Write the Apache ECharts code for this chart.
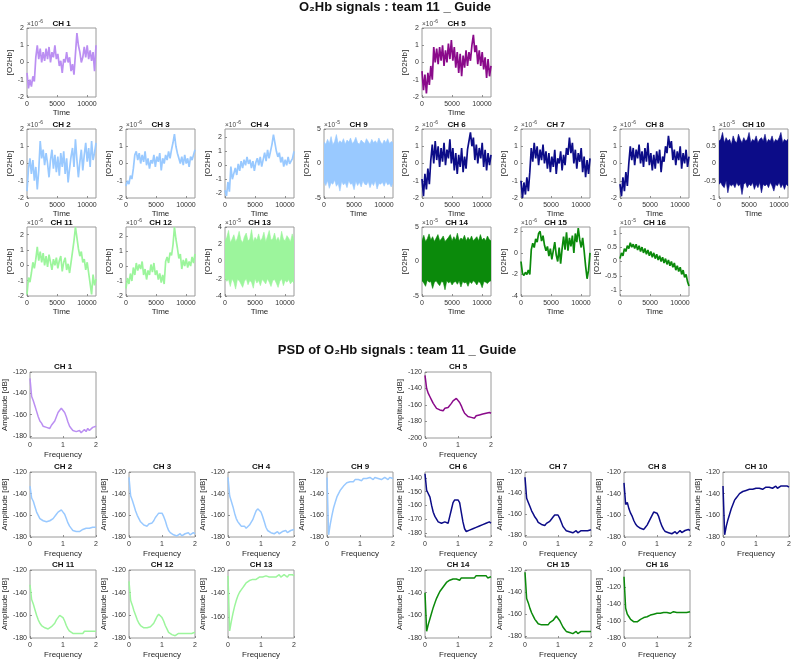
<!DOCTYPE html>
<html><head><meta charset="utf-8">
<script src="https://cdn.jsdelivr.net/npm/echarts@6/dist/echarts.min.js"></script>
<style>html,body{margin:0;padding:0;background:#fff}#c{width:794px;height:660px}</style>
</head><body><div id="c"></div><script>
// ---------- data ----------
const timeXTicks = [0, 5000, 10000];
const timeXMax = 11500;
const psdXTicks = [0, 1, 2];
const psdXMax = 2;

const tk2 = [-2, -1, 0, 1, 2];
const tk5 = [-5, 0, 5];
const tk4 = [-4, -2, 0, 2, 4];
const tkHalf = [-1, -0.5, 0, 0.5, 1];
const tk15 = [-4, -2, 0, 2];
const pk120 = [-180, -160, -140, -120];
const pk200 = [-200, -180, -160, -140, -120];
const pk6 = [-180, -170, -160, -150, -140];
const pk16 = [-180, -160, -140, -120, -100];

const tCH1 = [-0.6,-1.5,-1.0,-1.4,-0.8,-1.1,0.3,1.0,0.2,0.8,0.0,0.6,0.1,0.8,0.2,0.9,0.0,0.6,0.3,1.0,0.2,0.5,-0.2,0.1,-0.6,0.2,0.0,0.6,0.0,0.3,-0.5,-0.1,-0.7,0.5,1.7,1.0,0.6,0.0,0.3,0.9,0.3,1.0,0.2,0.7,0.1,0.6,-0.5,1.0];
const tCH5 = [-0.5,-1.6,-0.7,-1.8,-0.6,-1.3,-0.2,-1.0,0.9,0.0,0.8,-0.1,0.9,0.1,1.0,-0.2,0.7,0.0,1.1,0.2,1.3,0.1,0.9,-0.3,0.6,-0.6,0.5,-0.8,0.4,-0.3,0.7,-0.2,0.6,0.1,1.0,1.6,0.6,1.0,-0.1,0.7,-0.2,0.6,-0.4,0.3,-0.9,0.2,-0.8,-0.2];
const tCH2 = [-1.6,-0.3,0.3,-0.6,0.2,-1.0,-0.2,-1.5,-0.4,1.3,0.3,0.8,-0.1,0.6,0.0,-0.8,0.2,0.8,-0.3,0.5,-0.5,0.4,-0.7,0.6,-0.2,0.7,-0.6,0.3,-1.1,-0.3,0.4,0.9,-0.2,1.4,0.2,-0.8,0.1,0.8,-0.4,0.5,1.2,0.1,0.9,-0.2,1.3,0.2,0.6,1.2];
const tCH3 = [-1.3,-1.0,-1.2,-0.7,-0.9,-0.3,0.5,0.7,0.2,0.6,0.0,0.5,0.1,0.7,-0.1,0.3,-0.3,0.2,0.0,0.5,-0.2,0.4,0.1,0.6,-0.4,0.3,0.0,0.5,0.2,0.7,0.3,0.8,1.2,1.7,1.0,0.6,0.3,0.0,0.4,-0.1,0.5,0.0,0.3,-0.2,0.4,0.2,0.5,0.8];
const tCH4 = [-1.8,-2.2,-1.2,-1.9,-0.1,-1.0,-0.6,-0.2,-0.7,0.1,-0.4,0.3,-0.2,0.4,0.0,0.6,0.1,0.4,-0.2,0.3,-0.4,0.2,0.5,0.0,0.6,-0.1,0.4,0.9,0.3,1.1,0.5,1.0,1.5,2.2,1.6,1.0,0.6,0.9,0.2,0.6,-0.1,0.4,0.0,0.6,0.1,0.3,0.5,1.0];
const tCH9hi = [3.1,2.8,3.5,2.9,3.9,2.7,3.2,4.2,2.9,3.3,3.0,3.6,2.8,3.4,3.1,3.7,2.9,3.2,3.8,3.0,2.8,3.4,3.1,2.9,3.6,3.2,2.8,3.5,3.0,3.3,2.9,3.7,3.1,2.8,3.4,3.0,3.6,2.9,3.2,3.0];
const tCH9lo = [-2.7,-3.2,-2.5,-3.6,-2.8,-3.0,-2.4,-3.3,-2.9,-4.0,-2.6,-3.1,-2.8,-3.5,-2.5,-3.0,-2.9,-3.8,-2.6,-3.2,-2.7,-3.4,-2.5,-3.0,-3.1,-2.6,-3.5,-2.8,-3.2,-2.5,-3.7,-2.9,-3.0,-2.7,-3.3,-2.6,-3.1,-2.9,-3.4,-2.8];
const tCH6 = [-0.9,-1.9,-0.6,-1.5,-0.3,-1.2,0.2,1.1,0.0,1.3,0.2,1.0,-0.2,0.9,0.1,1.2,-0.1,0.8,0.3,1.4,0.0,0.9,-0.4,0.6,-0.6,0.5,-0.2,0.9,-0.5,0.4,-0.3,0.8,0.7,1.8,1.0,1.5,0.2,1.1,0.0,0.9,0.3,1.2,-0.2,0.8,-0.4,0.6,-0.1,0.5];
const tCH7 = [-1.0,-2.0,-1.1,-1.8,-0.8,-1.6,-0.5,0.9,0.1,1.2,0.3,1.0,-0.1,0.8,0.2,1.1,0.0,0.7,-0.3,0.6,-0.5,0.4,-0.2,0.8,-0.6,0.3,0.0,0.7,-0.4,0.5,-0.1,0.9,0.5,1.5,0.6,1.2,0.0,0.8,-0.3,0.6,0.1,0.9,-0.5,0.4,-0.8,0.2,-0.6,0.3];
const tCH8 = [-1.2,-1.9,-0.8,-1.6,-0.5,-1.3,0.0,1.0,0.2,0.9,-0.1,0.8,0.3,1.1,0.0,0.7,-0.2,0.9,0.1,1.2,-0.1,0.6,-0.4,0.5,-0.3,0.7,0.0,0.8,-0.5,0.4,0.1,1.0,0.6,1.6,0.9,1.3,0.2,0.8,-0.1,0.7,0.2,1.0,-0.3,0.6,0.0,0.8,-0.2,0.4];
const tCH10hi = [0.65,0.7,0.9,0.6,0.75,0.65,0.7,0.55,0.8,0.65,0.6,0.85,0.7,0.6,0.75,0.65,0.7,0.9,0.6,0.7,0.65,0.8,0.6,0.7,0.75,0.65,0.85,0.6,0.7,0.65,0.8,0.6,0.7,0.65,0.75,0.9,0.6,0.7,0.65,0.7];
const tCH10lo = [-0.6,-0.55,-0.65,-0.7,-0.5,-0.85,-0.6,-0.65,-0.6,-0.7,-0.55,-0.65,-0.6,-0.9,-0.6,-0.55,-0.7,-0.6,-0.65,-0.55,-0.75,-0.6,-0.7,-0.55,-0.85,-0.6,-0.65,-0.6,-0.7,-0.55,-0.65,-0.8,-0.6,-0.65,-0.55,-0.7,-0.6,-0.75,-0.6,-0.65];
const tCH11 = [-1.9,-0.8,-1.1,-0.5,0.2,-0.2,0.4,1.2,0.3,0.9,0.2,0.8,0.0,0.6,-0.1,0.7,0.2,-0.3,0.4,0.0,0.5,-0.2,0.3,0.6,-0.4,0.2,0.5,-0.3,0.1,-0.5,0.2,0.9,1.6,2.5,1.8,1.1,0.6,0.9,0.2,0.4,-0.3,0.2,-0.5,-1.2,-1.9,-0.6,-1.3,-0.9];
const tCH12 = [-1.5,-0.8,-1.2,-0.5,-1.0,-0.1,-0.6,0.2,-0.3,0.1,-0.2,0.3,-0.6,-0.2,-0.9,-0.3,-0.6,0.1,-0.4,0.2,-0.6,-0.3,-0.9,-0.5,-1.1,-0.6,-1.2,0.3,0.6,0.2,0.9,0.7,1.4,2.6,1.8,1.2,0.5,0.8,-0.2,0.4,0.0,0.5,-0.1,0.3,0.0,0.6,0.2,0.8];
const tCH13hi = [2.4,2.8,3.6,2.2,2.6,3.1,2.3,2.7,3.5,2.5,2.2,2.9,3.3,2.4,2.6,3.7,2.3,2.8,2.5,3.2,2.4,2.7,3.4,2.3,2.9,3.6,2.5,2.6,3.3,2.4,2.8,2.3,3.5,2.6,2.4,3.0,2.7,2.3,3.2,2.5];
const tCH13lo = [-2.0,-2.3,-2.1,-2.9,-2.0,-2.4,-3.2,-2.1,-2.2,-2.6,-3.0,-2.3,-2.0,-2.7,-2.2,-2.4,-3.1,-2.0,-2.5,-2.2,-2.8,-2.1,-2.3,-2.6,-2.0,-2.4,-2.9,-2.2,-2.1,-2.5,-3.0,-2.3,-2.0,-2.8,-2.2,-2.4,-2.1,-2.6,-2.3,-2.5];
const tCH14hi = [3.0,3.8,2.9,3.3,4.0,3.1,3.6,2.9,3.4,3.9,3.0,3.3,3.7,2.9,3.2,3.5,3.9,3.0,3.6,3.1,4.1,3.0,3.4,3.2,3.8,3.0,3.5,3.1,3.7,3.0,3.3,3.6,3.0,3.9,3.1,3.4,3.0,3.7,3.2,3.0];
const tCH14lo = [-2.8,-3.1,-3.6,-2.7,-3.0,-2.9,-3.9,-3.0,-2.8,-3.2,-3.5,-2.9,-3.0,-4.1,-2.8,-3.1,-2.9,-3.4,-3.0,-2.9,-3.3,-2.8,-3.7,-2.9,-3.1,-3.0,-3.6,-2.9,-3.2,-2.8,-3.0,-3.4,-2.9,-3.1,-3.8,-2.9,-3.0,-3.2,-2.9,-2.8];
const tCH15 = [-0.8,-1.9,-2.1,-1.8,-2.0,-1.6,-2.0,0.3,0.9,0.5,1.3,1.0,1.8,2.0,1.1,1.6,0.7,0.2,0.6,-0.3,0.4,-0.6,0.2,1.0,-0.2,-0.8,0.5,-1.0,0.4,1.5,0.3,1.9,0.2,1.4,0.6,1.6,0.0,1.8,1.0,2.3,1.2,0.5,1.4,0.2,-1.2,-2.4,-1.6,0.0];
const tCH16 = [0.1,0.3,0.2,0.45,0.35,0.55,0.45,0.65,0.5,0.6,0.45,0.6,0.4,0.55,0.35,0.5,0.3,0.45,0.25,0.4,0.2,0.35,0.15,0.3,0.1,0.25,0.05,0.2,0.0,0.15,-0.05,0.1,-0.1,0.05,-0.15,0.0,-0.2,-0.05,-0.3,-0.15,-0.35,-0.2,-0.45,-0.3,-0.55,-0.45,-0.7,-0.85];

const pCH1 = [-126,-143,-147,-152,-157,-162,-166,-168,-171,-170,-172,-171,-173,-170,-169,-166,-162,-158,-156,-154,-155,-158,-162,-167,-171,-173,-175,-174,-176,-177,-175,-177,-176,-174,-176,-173,-175,-174,-172,-173,-171];
const pCH5 = [-124,-140,-146,-150,-154,-158,-161,-164,-163,-166,-165,-167,-164,-166,-163,-161,-158,-155,-153,-152,-154,-157,-161,-166,-170,-172,-174,-173,-175,-174,-176,-173,-175,-172,-174,-171,-173,-170,-172,-169,-170];
const pCH2 = [-133,-144,-147,-152,-157,-160,-163,-164,-165,-166,-166,-167,-165,-166,-163,-162,-159,-157,-156,-155,-157,-159,-163,-167,-170,-172,-174,-173,-175,-174,-175,-174,-173,-174,-172,-173,-172,-173,-171,-172,-171];
const pCH3 = [-125,-142,-146,-151,-156,-160,-163,-166,-167,-169,-168,-170,-168,-169,-167,-165,-162,-160,-158,-157,-158,-161,-165,-170,-174,-176,-177,-178,-177,-179,-178,-177,-179,-178,-177,-178,-176,-178,-177,-176,-177];
const pCH4 = [-125,-142,-147,-152,-158,-163,-166,-168,-170,-171,-170,-172,-171,-169,-168,-164,-160,-156,-154,-155,-157,-161,-166,-171,-174,-175,-176,-175,-177,-176,-175,-177,-176,-175,-176,-174,-176,-175,-174,-175,-173];
const pCH9 = [-125,-178,-168,-160,-153,-148,-143,-140,-137,-135,-133,-132,-130,-130,-129,-128,-129,-127,-128,-127,-127,-128,-126,-127,-126,-127,-125,-126,-127,-125,-126,-126,-125,-127,-126,-125,-126,-127,-125,-126,-126];
const pCH6 = [-137,-149,-150,-154,-160,-165,-168,-170,-172,-171,-173,-172,-172,-171,-173,-168,-163,-158,-156,-155,-156,-158,-165,-172,-177,-179,-180,-178,-179,-177,-178,-176,-177,-175,-176,-174,-175,-173,-174,-172,-173];
const pCH7 = [-125,-145,-149,-153,-157,-160,-163,-165,-168,-169,-170,-169,-171,-169,-168,-167,-165,-163,-161,-160,-161,-164,-168,-172,-174,-176,-175,-177,-176,-178,-177,-176,-178,-177,-176,-177,-176,-175,-176,-175,-175];
const pCH8 = [-130,-150,-148,-154,-158,-161,-165,-168,-170,-171,-172,-171,-173,-171,-169,-166,-163,-160,-157,-156,-158,-161,-166,-170,-173,-175,-174,-176,-175,-177,-176,-175,-177,-176,-174,-176,-175,-174,-175,-173,-174];
const pCH10 = [-133,-178,-170,-164,-159,-154,-150,-146,-144,-142,-140,-139,-138,-137,-137,-136,-136,-135,-136,-135,-135,-134,-135,-134,-136,-135,-134,-135,-134,-133,-135,-134,-133,-135,-134,-133,-134,-133,-134,-133,-134];
const pCH11 = [-133,-146,-150,-155,-160,-164,-167,-169,-170,-171,-170,-172,-171,-170,-169,-167,-164,-162,-160,-161,-162,-165,-169,-172,-174,-175,-176,-175,-176,-175,-176,-175,-176,-174,-175,-174,-175,-174,-175,-174,-174];
const pCH12 = [-130,-147,-151,-156,-160,-164,-167,-169,-170,-171,-172,-171,-172,-170,-169,-167,-164,-161,-159,-160,-162,-165,-169,-172,-175,-176,-177,-176,-178,-177,-176,-177,-176,-177,-176,-175,-176,-175,-176,-175,-175];
const pCH13 = [-125,-172,-164,-157,-151,-146,-142,-139,-137,-135,-133,-131,-130,-129,-129,-128,-127,-128,-127,-126,-127,-126,-127,-125,-126,-126,-125,-126,-125,-126,-125,-124,-126,-125,-124,-125,-126,-124,-125,-124,-125];
const pCH14 = [-140,-174,-168,-163,-158,-153,-149,-145,-142,-139,-137,-135,-133,-131,-130,-129,-130,-128,-129,-128,-128,-129,-127,-128,-127,-128,-127,-126,-127,-126,-127,-125,-126,-125,-126,-125,-126,-125,-127,-126,-126];
const pCH15 = [-122,-146,-150,-155,-159,-162,-165,-167,-169,-170,-170,-171,-170,-169,-170,-168,-167,-166,-164,-162,-163,-166,-169,-172,-174,-176,-175,-177,-176,-178,-177,-176,-178,-177,-176,-177,-176,-177,-176,-175,-176];
const pCH16 = [-108,-145,-152,-155,-158,-160,-161,-163,-161,-160,-158,-157,-156,-155,-155,-154,-153,-153,-152,-152,-151,-152,-151,-151,-150,-151,-150,-150,-151,-150,-149,-150,-150,-149,-150,-149,-150,-149,-150,-149,-149];

// ---------- colours & layout ----------
const LP = '#bb8ff2', PU = '#8a0a8a', LB = '#99c9ff', NV = '#0c0c88', LG = '#9cf59c', DG = '#0b8a0b';
const FONT = '"Liberation Sans", Arial, Helvetica, sans-serif';
const TL = [27,126,225,324,422,521,620,719], TW = 69, TT = [28,129,227], TH = 69;
const PL = [30,129,228,327,425,525,624,723], PW = 66, PT = [372,472,570], PH = [66,65,68];

const timePanels = [
  {ch:'CH 1', r:0, c:0, d:tCH1, col:LP, y:[-2,2], t:tk2, e:'-6'},
  {ch:'CH 5', r:0, c:4, d:tCH5, col:PU, y:[-2,2], t:tk2, e:'-6'},
  {ch:'CH 2', r:1, c:0, d:tCH2, col:LB, y:[-2,2], t:tk2, e:'-6'},
  {ch:'CH 3', r:1, c:1, d:tCH3, col:LB, y:[-2,2], t:tk2, e:'-6'},
  {ch:'CH 4', r:1, c:2, d:tCH4, col:LB, y:[-2.35,2.6], t:tk2, e:'-6'},
  {ch:'CH 9', r:1, c:3, hi:tCH9hi, lo:tCH9lo, col:LB, y:[-5,5], t:tk5, e:'-5'},
  {ch:'CH 6', r:1, c:4, d:tCH6, col:NV, y:[-2,2], t:tk2, e:'-6'},
  {ch:'CH 7', r:1, c:5, d:tCH7, col:NV, y:[-2,2], t:tk2, e:'-6'},
  {ch:'CH 8', r:1, c:6, d:tCH8, col:NV, y:[-2,2], t:tk2, e:'-6'},
  {ch:'CH 10', r:1, c:7, hi:tCH10hi, lo:tCH10lo, col:NV, y:[-1,1], t:tkHalf, e:'-5'},
  {ch:'CH 11', r:2, c:0, d:tCH11, col:LG, y:[-2,2.5], t:tk2, e:'-6'},
  {ch:'CH 12', r:2, c:1, d:tCH12, col:LG, y:[-2,2.6], t:tk2, e:'-6'},
  {ch:'CH 13', r:2, c:2, hi:tCH13hi, lo:tCH13lo, col:LG, y:[-4,4], t:tk4, e:'-5'},
  {ch:'CH 14', r:2, c:4, hi:tCH14hi, lo:tCH14lo, col:DG, y:[-5,5], t:tk5, e:'-5'},
  {ch:'CH 15', r:2, c:5, d:tCH15, col:DG, y:[-4,2.4], t:tk15, e:'-6'},
  {ch:'CH 16', r:2, c:6, d:tCH16, col:DG, y:[-1.2,1.2], t:tkHalf, e:'-5'}
];
const psdPanels = [
  {ch:'CH 1', r:0, c:0, d:pCH1, col:LP, y:[-182,-120], t:pk120},
  {ch:'CH 5', r:0, c:4, d:pCH5, col:PU, y:[-200,-120], t:pk200},
  {ch:'CH 2', r:1, c:0, d:pCH2, col:LB, y:[-180,-120], t:pk120},
  {ch:'CH 3', r:1, c:1, d:pCH3, col:LB, y:[-180,-120], t:pk120},
  {ch:'CH 4', r:1, c:2, d:pCH4, col:LB, y:[-180,-120], t:pk120},
  {ch:'CH 9', r:1, c:3, d:pCH9, col:LB, y:[-180,-120], t:pk120},
  {ch:'CH 6', r:1, c:4, d:pCH6, col:NV, y:[-183,-135.7], t:pk6},
  {ch:'CH 7', r:1, c:5, d:pCH7, col:NV, y:[-182,-120], t:pk120},
  {ch:'CH 8', r:1, c:6, d:pCH8, col:NV, y:[-180,-120], t:pk120},
  {ch:'CH 10', r:1, c:7, d:pCH10, col:NV, y:[-180,-120], t:pk120},
  {ch:'CH 11', r:2, c:0, d:pCH11, col:LG, y:[-180,-120], t:pk120},
  {ch:'CH 12', r:2, c:1, d:pCH12, col:LG, y:[-180,-120], t:pk120},
  {ch:'CH 13', r:2, c:2, d:pCH13, col:LG, y:[-178,-120], t:pk120},
  {ch:'CH 14', r:2, c:4, d:pCH14, col:DG, y:[-180,-120], t:pk120},
  {ch:'CH 15', r:2, c:5, d:pCH15, col:DG, y:[-182,-120], t:pk120},
  {ch:'CH 16', r:2, c:6, d:pCH16, col:DG, y:[-180,-100], t:pk16}
];

// ---------- build ----------
const grid = [], xAxis = [], yAxis = [], series = [], graphic = [];
const fmt = v => String(v);
const xOf = (k, n, xmax) => k * xmax / (n - 1);
const toXY = (arr, xmax) => arr.map((v, k) => [xOf(k, arr.length, xmax), v]);
function text(x, y, str, font, fill, align) {
  graphic.push({type: 'text', x, y, silent: true,
    style: {text: str, font, fill, align: align || 'center', verticalAlign: 'middle'}});
}
function bandSeries(i, hi, lo, col, xmax) {
  return {
    type: 'custom', coordinateSystem: 'cartesian2d', xAxisIndex: i, yAxisIndex: i,
    silent: true, clip: true, data: [[0, 0]],
    renderItem: (params, api) => {
      const pts = [];
      hi.forEach((v, k) => pts.push(api.coord([xOf(k, hi.length, xmax), v])));
      for (let k = lo.length - 1; k >= 0; k--) pts.push(api.coord([xOf(k, lo.length, xmax), lo[k]]));
      return {type: 'polygon', shape: {points: pts}, style: {fill: col, stroke: col, lineWidth: 0.6}};
    }
  };
}
function addPanel(p, isPsd) {
  const i = grid.length;
  const left = isPsd ? PL[p.c] : TL[p.c];
  const top = isPsd ? PT[p.r] : TT[p.r];
  const w = isPsd ? PW : TW;
  const h = isPsd ? PH[p.r] : TH;
  const xmax = isPsd ? psdXMax : timeXMax;
  const xt = isPsd ? psdXTicks : timeXTicks;
  grid.push({left, top, width: w, height: h, show: true, borderColor: '#9a9a9a', borderWidth: 1, backgroundColor: '#fff'});
  xAxis.push({
    gridIndex: i, type: 'value', min: 0, max: xmax, position: 'bottom',
    name: isPsd ? 'Frequency' : 'Time', nameLocation: 'middle', nameGap: isPsd ? 13 : 10,
    nameTextStyle: {fontSize: 8, color: '#262626', fontFamily: FONT},
    axisLine: {show: false, onZero: false}, splitLine: {show: false},
    axisTick: {show: true, inside: true, length: 2, customValues: xt, lineStyle: {color: '#777', width: 0.8}},
    axisLabel: {customValues: xt, fontSize: 7, color: '#333', margin: 4, fontFamily: FONT, formatter: fmt}
  });
  yAxis.push({
    gridIndex: i, type: 'value', min: p.y[0], max: p.y[1], position: 'left',
    name: isPsd ? 'Amplitude [dB]' : '[O2Hb]', nameLocation: 'middle', nameRotate: 90,
    nameGap: isPsd ? 19 : 11,
    nameTextStyle: {fontSize: 8, color: '#262626', fontFamily: FONT},
    axisLine: {show: false, onZero: false}, splitLine: {show: false},
    axisTick: {show: true, inside: true, length: 2, customValues: p.t, lineStyle: {color: '#777', width: 0.8}},
    axisLabel: {customValues: p.t, fontSize: 7, color: '#333', margin: 3, fontFamily: FONT, formatter: fmt}
  });
  if (p.hi) {
    series.push(bandSeries(i, p.hi, p.lo, p.col, xmax));
  } else {
    series.push({
      type: 'line', xAxisIndex: i, yAxisIndex: i, showSymbol: false, silent: true, clip: true,
      lineStyle: {color: p.col, width: isPsd ? 1.5 : 1.7},
      data: toXY(p.d, xmax)
    });
  }
  text(left + w / 2, top - (isPsd ? 5 : 4), p.ch, 'bold 8px ' + FONT, '#111');
  if (!isPsd) {
    text(left, top - 4, '\u00d710', '6.5px ' + FONT, '#444', 'left');
    text(left + 11.5, top - 6, p.e, '5px ' + FONT, '#444', 'left');
  }
}
timePanels.forEach(p => addPanel(p, false));
psdPanels.forEach(p => addPanel(p, true));
text(395, 7, 'O\u2082Hb signals : team 11 _ Guide', 'bold 13px ' + FONT, '#111');
text(397, 350, 'PSD of O\u2082Hb signals : team 11 _ Guide', 'bold 13px ' + FONT, '#111');

const chart = echarts.init(document.getElementById('c'), null, {renderer: 'canvas'});
chart.setOption({animation: false, backgroundColor: '#fff', grid, xAxis, yAxis, series, graphic});
</script></body></html>
